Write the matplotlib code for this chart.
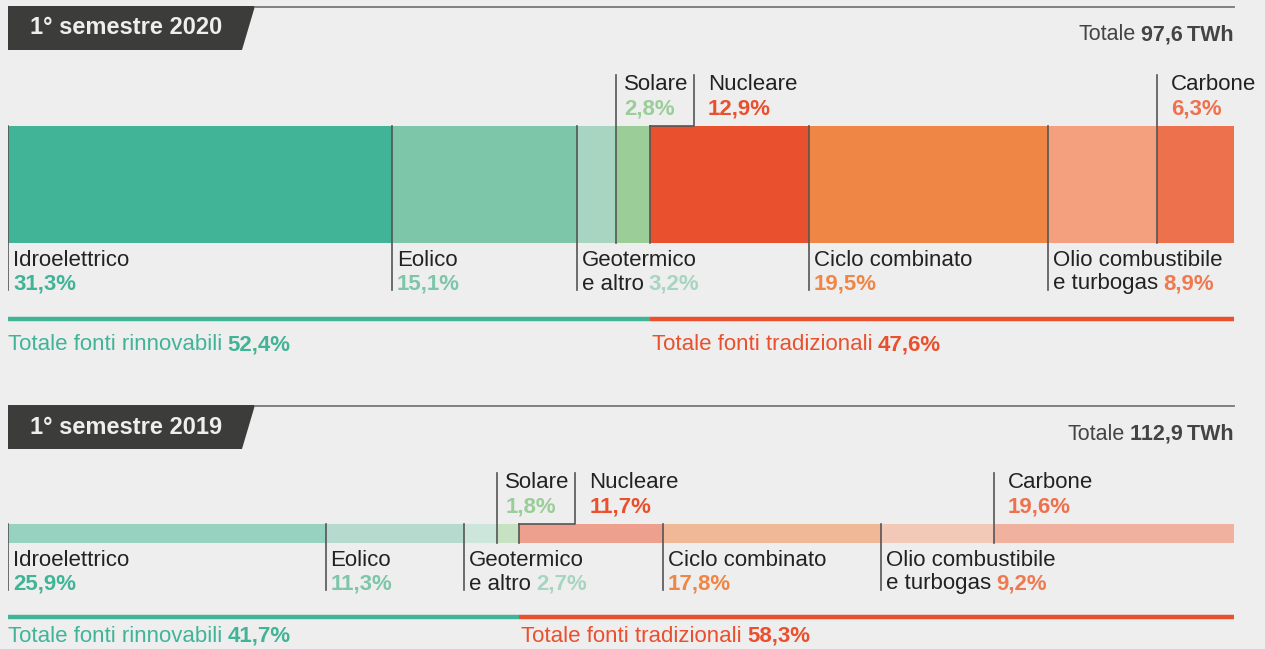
import matplotlib.pyplot as plt
from matplotlib.patches import Polygon

categories = ["Idroelettrico", "Eolico", "Geotermico\ne altro", "Solare",
              "Nucleare", "Ciclo combinato", "Olio combustibile\ne turbogas", "Carbone"]
share_2020 = [31.3, 15.1, 3.2, 2.8, 12.9, 19.5, 8.9, 6.3]
share_2019 = [25.9, 11.3, 2.7, 1.8, 11.7, 17.8, 9.2, 19.6]
total_2020 = 97.6
total_2019 = 112.9
renew_2020, trad_2020 = 52.4, 47.6
renew_2019, trad_2019 = 41.7, 58.3
above = ["Solare", "Nucleare", "Carbone"]

bar_colors_2020 = ["#41B497", "#7DC6AA", "#A8D5C2", "#9ACD98",
                   "#E9502E", "#F08646", "#F4A07E", "#EE714D"]
bar_colors_2019 = ["#97D1C0", "#B6DACD", "#CDE6DC", "#C6E2C3",
                   "#EEA08F", "#F0B897", "#F2C8B6", "#F0B19F"]
pct_colors = ["#41B497", "#7DC6AA", "#A8D5C2", "#9ACD98",
              "#E9502E", "#F08646", "#EF7A50", "#EE714D"]
GREEN = "#41B497"
RED = "#E9502E"
BG = "#EEEEEE"
LINE = "#555555"

plt.rcParams['font.family'] = ['Liberation Sans', 'DejaVu Sans']

W, H = 1265, 649
fig = plt.figure(figsize=(W / 100, H / 100), dpi=100)
fig.patch.set_facecolor(BG)

deco = fig.add_axes([0, 0, 1, 1])
deco.set_xlim(0, W)
deco.set_ylim(H, 0)
deco.axis("off")

ax = fig.add_axes([8 / W, 0, 1226 / W, 1])
ax.set_xlim(0, 100)
ax.set_ylim(H, 0)
ax.axis("off")
PX = 100 / 1226  # data units per pixel


def fmt(v):
    return f"{v:.1f}".replace(".", ",") + "%"


def tail(prev, txt, color, weight="bold", dx=5):
    return ax.annotate(txt, xy=(1, 0), xycoords=prev, xytext=(dx, 0),
                       textcoords="offset pixels", ha="left", va="bottom",
                       fontsize=16, color=color, fontweight=weight)


def panel(head_y, title, total, bar_top, bar_h, shares, colors, renew, trad, tot_y, tot_dy):
    # header box
    deco.add_patch(Polygon([(8, head_y), (255, head_y), (242, head_y + 44), (8, head_y + 44)],
                           closed=True, color="#3C3C3A", lw=0))
    deco.plot([255, 1234], [head_y + 0.5, head_y + 0.5], color="#777777", lw=1.3)
    deco.text(30, head_y + 22, title, color=BG, fontsize=17, fontweight="bold",
              ha="left", va="center")
    t = deco.text(1234, head_y + 29, f"{total:.1f}".replace(".", ",") + "\u2009TWh",
                  color="#444444", fontsize=15.5, fontweight="bold", ha="right", va="center")
    deco.annotate("Totale", xy=(0, 0), xycoords=t, xytext=(-6, 0), textcoords="offset pixels",
                  ha="right", va="bottom", fontsize=15.5, color="#444444")

    starts = [sum(shares[:i]) for i in range(len(shares))]
    bar_bot = bar_top + bar_h
    ax.barh(bar_top + bar_h / 2, shares, left=starts, height=bar_h, color=colors, lw=0)

    solar_start = starts[categories.index("Solare")]
    for cat, s, v, pc in zip(categories, starts, shares, pct_colors):
        if cat in above:
            if cat == "Nucleare":
                lx = solar_start + 78 * PX
                ax.plot([lx, lx, s], [bar_top - 51, bar_top, bar_top], color=LINE, lw=1.2)
                ax.plot([s, s], [bar_top, bar_bot], color=LINE, lw=1.2)
                tx = lx
                dx = 14
            else:
                ax.plot([s, s], [bar_top - 51, bar_bot], color=LINE, lw=1.2)
                tx = s
                dx = 8 if cat == "Solare" else 14
            ax.annotate(cat, xy=(tx, bar_top - 41), xytext=(dx, 0), textcoords="offset pixels",
                        ha="left", va="center", fontsize=16, color="#222222")
            ax.annotate(fmt(v), xy=(tx, bar_top - 17), xytext=(dx, 0), textcoords="offset pixels",
                        ha="left", va="center", fontsize=16, color=pc, fontweight="bold")
        else:
            ax.plot([s, s], [bar_top, bar_bot + 47], color=LINE, lw=1.2)
            lines = cat.split("\n")
            ax.annotate(lines[0], xy=(s, bar_bot + 17), xytext=(5, 0), textcoords="offset pixels",
                        ha="left", va="center", fontsize=16, color="#222222")
            if len(lines) > 1:
                t2 = ax.annotate(lines[1], xy=(s, bar_bot + 41), xytext=(5, 0),
                                 textcoords="offset pixels", ha="left", va="center",
                                 fontsize=16, color="#222222")
                tail(t2, fmt(v), pc)
            else:
                ax.annotate(fmt(v), xy=(s, bar_bot + 41), xytext=(5, 0),
                            textcoords="offset pixels", ha="left", va="center",
                            fontsize=16, color=pc, fontweight="bold")

    # totals
    ax.plot([0, renew], [tot_y, tot_y], color=GREEN, lw=3.2, solid_capstyle="butt")
    ax.plot([renew, 100], [tot_y, tot_y], color=RED, lw=3.2, solid_capstyle="butt")
    t = ax.text(0, tot_y + tot_dy, "Totale fonti rinnovabili", color=GREEN, fontsize=16,
                ha="left", va="center")
    tail(t, fmt(renew), GREEN)
    t = ax.annotate("Totale fonti tradizionali", xy=(renew, tot_y + tot_dy), xytext=(2, 0),
                    textcoords="offset pixels", color=RED, fontsize=16, ha="left", va="center")
    tail(t, fmt(trad), RED)


panel(6, "1° semestre 2020", total_2020, 126, 117, share_2020, bar_colors_2020,
      renew_2020, trad_2020, 319, 26)
panel(405, "1° semestre 2019", total_2019, 524, 19, share_2019, bar_colors_2019,
      renew_2019, trad_2019, 617, 19)

fig.savefig("out.png", dpi=100, facecolor=BG)
